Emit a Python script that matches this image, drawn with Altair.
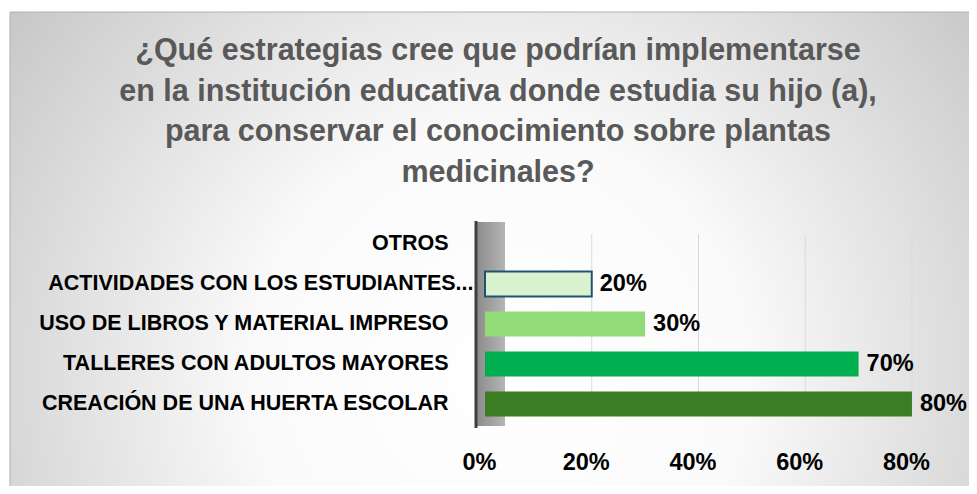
import altair as alt
import pandas as pd

categories = [
    "OTROS",
    "ACTIVIDADES CON LOS ESTUDIANTES...",
    "USO DE LIBROS Y MATERIAL IMPRESO",
    "TALLERES CON ADULTOS MAYORES",
    "CREACIÓN DE UNA HUERTA ESCOLAR",
]
values = [0.0, 0.20, 0.30, 0.70, 0.80]
bar_colors = ["#DAF2D0", "#DAF2D0", "#92DB78", "#00B050", "#3B7D23"]
tick_values = [0, 0.2, 0.4, 0.6, 0.8]
grid_values = [0.2, 0.4, 0.6, 0.8]
title_lines = [
    "¿Qué estrategias cree que podrían implementarse",
    "en la institución educativa donde estudia su hijo (a),",
    "para conservar el conocimiento sobre plantas",
    "medicinales?",
]

df = pd.DataFrame({"cat": categories, "val": values})
grid_df = pd.DataFrame({"g": grid_values})

W, H = 459, 200
PAD_L, PAD_T = 477, 216
PAD_R = 961 - PAD_L - W
PAD_B = 478 - PAD_T - H

x_scale = alt.Scale(domain=[0, 0.86], nice=False)

bg = alt.Chart(pd.DataFrame({"a": [0]})).mark_rect(
    fill={
        "gradient": "radial",
        "x1": 0.5, "y1": 0.62, "r1": 0,
        "x2": 0.5, "y2": 0.62, "r2": 0.72,
        "stops": [
            {"offset": 0, "color": "#ffffff"},
            {"offset": 0.35, "color": "#fafafa"},
            {"offset": 1, "color": "#bababa"},
        ],
    },
    stroke="#b0b0b0",
    strokeWidth=1,
).encode(
    x=alt.value(-475), x2=alt.value(W + PAD_R + 20),
    y=alt.value(-212), y2=alt.value(H + PAD_B + 20),
)

grid = alt.Chart(grid_df).mark_rule(color="#d9d9d9", strokeWidth=1).encode(
    x=alt.X("g:Q", scale=x_scale), y=alt.value(10), y2=alt.value(H - 12),
)

wall = alt.Chart(pd.DataFrame({"a": [0]})).mark_rect(
    fill={
        "gradient": "linear", "x1": 0, "y1": 0, "x2": 1, "y2": 0,
        "stops": [{"offset": 0, "color": "#8c8c8c"}, {"offset": 1, "color": "#b5b5b5"}],
    },
).encode(x=alt.value(-8), x2=alt.value(20), y=alt.value(-2), y2=alt.value(H + 2))

wall_line = alt.Chart(pd.DataFrame({"a": [0]})).mark_rule(
    color="#3f3f3f", strokeWidth=3
).encode(x=alt.value(-9), y=alt.value(-3), y2=alt.value(H + 4))

title = alt.Chart(pd.DataFrame({"a": [0]})).mark_text(
    font="Liberation Sans", fontSize=30.5, fontWeight="bold", color="#595959",
    align="center", baseline="middle", lineHeight=40.7,
).encode(x=alt.value(13), y=alt.value(-173), text=alt.value(title_lines))

y_enc = alt.Y(
    "cat:N", sort=categories, title=None,
    scale=alt.Scale(paddingInner=0.38, paddingOuter=0.19),
    axis=alt.Axis(
        domain=False, ticks=False, grid=False, zindex=2,
        labelFont="Liberation Sans", labelFontSize=21.5, labelFontWeight="bold",
        labelColor="#000000", labelLimit=480,
        labelPadding=alt.ExprRef("datum.value == 'ACTIVIDADES CON LOS ESTUDIANTES...' ? 12 : 37"),
    ),
)
x_enc = alt.X(
    "val:Q", title=None, scale=x_scale,
    axis=alt.Axis(
        values=tick_values, format=".0%", zindex=2,
        domain=False, ticks=False, grid=False, labelFlush=False,
        labelFont="Liberation Sans", labelFontSize=23.5, labelFontWeight="bold",
        labelColor="#000000", labelPadding=26, labelOffset=-6,
    ),
)

bars = alt.Chart(df).mark_bar(cornerRadius=0).encode(
    y=y_enc, x=x_enc,
    fill=alt.Color("cat:N", scale=alt.Scale(domain=categories, range=bar_colors), legend=None),
    stroke=alt.condition(
        alt.datum.cat == "ACTIVIDADES CON LOS ESTUDIANTES...",
        alt.value("#1F5470"), alt.value(None)
    ),
    strokeWidth=alt.value(2),
)

labels = alt.Chart(df).transform_filter(alt.datum.val > 0).mark_text(
    align="left", baseline="middle", dx=8,
    font="Liberation Sans", fontSize=23.5, fontWeight="bold", color="#000000",
).encode(
    y=alt.Y("cat:N", sort=categories), x=alt.X("val:Q", scale=x_scale),
    text=alt.Text("val:Q", format=".0%"),
)

chart = alt.layer(bg, grid, wall, wall_line, bars, labels, title).properties(
    width=W, height=H,
    autosize=alt.AutoSizeParams(type="none"),
    padding={"left": PAD_L, "top": PAD_T, "right": PAD_R, "bottom": PAD_B},
).configure_view(stroke=None).configure(background="white")

chart.save("out.html", embed_options={"renderer": "svg", "actions": False})
